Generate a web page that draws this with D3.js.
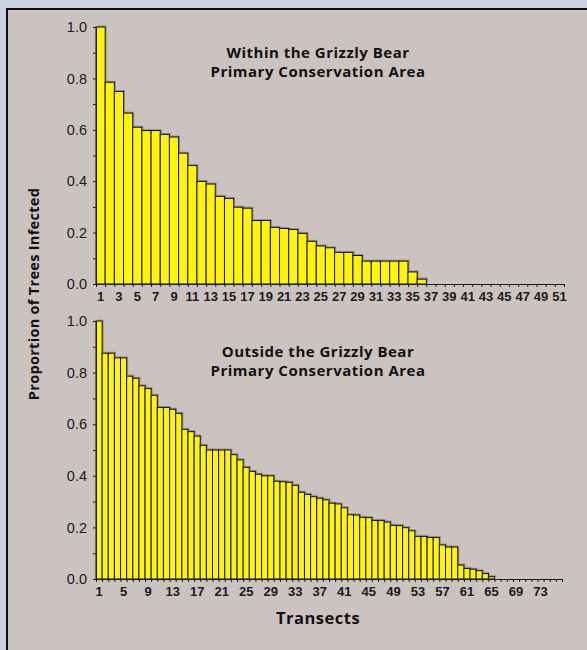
<!DOCTYPE html>
<html>
<head>
<meta charset="utf-8">
<script src="https://cdn.jsdelivr.net/npm/d3@7"></script>
<style>
  body { margin: 0; background: #cbd3de; }
  svg text { font-family: "Liberation Sans", Arial, sans-serif; }
  .title { font-family: "Open Sans", sans-serif !important; font-weight: bold; }
</style>
</head>
<body>
<script>
// proportion of trees infected, transects sorted high to low
const withinValues = [1.0, 0.785, 0.749, 0.665, 0.61, 0.597, 0.597, 0.582, 0.572, 0.509,
  0.461, 0.399, 0.389, 0.341, 0.333, 0.299, 0.295, 0.247, 0.247, 0.22,
  0.216, 0.212, 0.197, 0.166, 0.148, 0.141, 0.123, 0.123, 0.111, 0.089,
  0.089, 0.089, 0.089, 0.089, 0.047, 0.019, 0, 0, 0, 0,
  0, 0, 0, 0, 0, 0, 0, 0, 0, 0, 0];
const outsideValues = [1.0, 0.875, 0.875, 0.857, 0.857, 0.786, 0.778, 0.749, 0.738, 0.712,
  0.665, 0.665, 0.658, 0.642, 0.58, 0.571, 0.554, 0.518, 0.5, 0.5,
  0.5, 0.5, 0.482, 0.462, 0.433, 0.417, 0.406, 0.4, 0.4, 0.379,
  0.377, 0.375, 0.363, 0.336, 0.328, 0.319, 0.313, 0.307, 0.294, 0.291,
  0.276, 0.249, 0.248, 0.239, 0.238, 0.227, 0.227, 0.221, 0.208, 0.207,
  0.199, 0.187, 0.165, 0.165, 0.161, 0.161, 0.132, 0.124, 0.124, 0.054,
  0.041, 0.038, 0.032, 0.021, 0.009, 0, 0, 0, 0, 0,
  0, 0, 0, 0, 0, 0];
const withinTickLabels = [1, 3, 5, 7, 9, 11, 13, 15, 17, 19, 21, 23, 25, 27, 29, 31, 33, 35,
  37, 39, 41, 43, 45, 47, 49, 51];
const outsideTickLabels = [1, 5, 9, 13, 17, 21, 25, 29, 33, 37, 41, 45, 49, 53, 57, 61, 65, 69, 73];
const yMajorTicks = [0, 0.2, 0.4, 0.6, 0.8, 1.0];
const yMinorTicks = [0.1, 0.3, 0.5, 0.7, 0.9];
const withinTitle = ["Within the Grizzly Bear", "Primary Conservation Area"];
const outsideTitle = ["Outside the Grizzly Bear", "Primary Conservation Area"];

const totalWidth = 587;
const totalHeight = 650;

const svg = d3.select("body")
  .append("svg")
  .attr("width", totalWidth)
  .attr("height", totalHeight);

// framed panel, runs off the right and bottom of the window
svg.append("rect")
  .attr("x", 7)
  .attr("y", 9)
  .attr("width", 640)
  .attr("height", 700)
  .attr("fill", "#cbc3c0")
  .attr("stroke", "#111")
  .attr("stroke-width", 2);

function drawPanel(values, tickLabels, title, box) {
  const xScale = d3.scaleBand()
    .domain(values.map((d, i) => i + 1))
    .range([box.left, box.right])
    .padding(0);

  // category edges, for the tick marks between bars
  const edgeScale = d3.scaleLinear()
    .domain([0, values.length])
    .range([box.left, box.right]);

  const yScale = d3.scaleLinear()
    .domain([0, 1])
    .range([box.bottom, box.top]);

  const data = values.map((v, i) => ({ t: i + 1, v: v })).filter(d => d.v > 0);
  const g = svg.append("g");

  g.selectAll("rect.shadow")
    .data(data)
    .enter()
    .append("rect")
    .attr("class", "shadow")
    .attr("x", d => xScale(d.t) + 1.5)
    .attr("y", d => yScale(d.v) - 1.5)
    .attr("width", xScale.bandwidth())
    .attr("height", d => box.bottom - yScale(d.v))
    .attr("fill", "#6f6a66")
    .attr("opacity", 0.55);

  g.selectAll("rect.bar")
    .data(data)
    .enter()
    .append("rect")
    .attr("class", "bar")
    .attr("x", d => xScale(d.t))
    .attr("y", d => yScale(d.v))
    .attr("width", xScale.bandwidth())
    .attr("height", d => box.bottom - yScale(d.v))
    .attr("fill", "#fff500")
    .attr("stroke", "#111")
    .attr("stroke-width", 1);

  // y axis, major with labels and minor ticks
  const yAxis = g.append("g")
    .attr("transform", `translate(${box.left}, 0)`)
    .call(d3.axisLeft(yScale)
      .tickValues(yMajorTicks)
      .tickSize(3)
      .tickSizeOuter(0)
      .tickPadding(6)
      .tickFormat(d3.format(".1f")));
  yAxis.selectAll("text")
    .style("font-size", "14.5px")
    .attr("fill", "#1a1a1a");

  g.append("g")
    .attr("transform", `translate(${box.left}, 0)`)
    .call(d3.axisLeft(yScale)
      .tickValues(yMinorTicks)
      .tickSize(3)
      .tickSizeOuter(0)
      .tickFormat(""))
    .select(".domain").remove();

  // x axis ticks at bar edges
  g.append("g")
    .attr("transform", `translate(0, ${box.bottom})`)
    .call(d3.axisBottom(edgeScale)
      .tickValues(d3.range(values.length + 1))
      .tickSize(3)
      .tickSizeOuter(0)
      .tickFormat(""));

  const xLabels = g.append("g")
    .attr("transform", `translate(0, ${box.bottom})`)
    .call(d3.axisBottom(xScale)
      .tickValues(tickLabels)
      .tickSize(0)
      .tickPadding(box.labelPad));
  xLabels.select(".domain").remove();
  xLabels.selectAll("text")
    .style("font-size", "13px")
    .style("font-weight", "bold")
    .attr("fill", "#1a1a1a");

  g.selectAll(".domain, .tick line")
    .attr("stroke", "#1a1a1a");

  g.selectAll("text.title")
    .data(title)
    .enter()
    .append("text")
    .attr("class", "title")
    .attr("x", box.titleX)
    .attr("y", (d, i) => box.titleY + i * 19)
    .attr("text-anchor", "middle")
    .style("font-size", "15px")
    .style("letter-spacing", "0.5px")
    .attr("fill", "#111")
    .text(d => d);
}

drawPanel(withinValues, withinTickLabels, withinTitle,
  { left: 96, right: 564, top: 27, bottom: 284, labelPad: 8, titleX: 318, titleY: 58 });
drawPanel(outsideValues, outsideTickLabels, outsideTitle,
  { left: 96, right: 562, top: 321, bottom: 579, labelPad: 7.5, titleX: 318, titleY: 357 });

svg.append("text")
  .attr("class", "title")
  .attr("transform", "translate(39, 294) rotate(-90)")
  .attr("text-anchor", "middle")
  .style("font-size", "14.5px")
  .style("letter-spacing", "0.3px")
  .attr("fill", "#111")
  .text("Proportion of Trees Infected");

svg.append("text")
  .attr("class", "title")
  .attr("x", 318)
  .attr("y", 624)
  .attr("text-anchor", "middle")
  .style("font-size", "16.5px")
  .style("letter-spacing", "0.5px")
  .attr("fill", "#111")
  .text("Transects");
</script>
</body>
</html>
